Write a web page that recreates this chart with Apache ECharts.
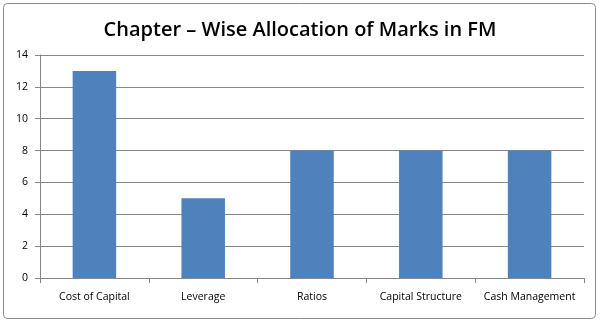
<!DOCTYPE html>
<html><head><meta charset="utf-8">
<script src="https://cdn.jsdelivr.net/npm/echarts@6/dist/echarts.min.js"></script>
<style>html,body{margin:0;padding:0;background:#fff}#c{width:600px;height:323px}</style>
</head><body><div id="c"></div>
<script>
var titleText = 'Chapter \u2013 Wise Allocation of Marks in FM';
var categories = ['Cost of Capital', 'Leverage', 'Ratios', 'Capital Structure', 'Cash Management'];
var marks = [13, 5, 8, 8, 8];
var yTicks = [0, 2, 4, 6, 8, 10, 12, 14];

var chart = echarts.init(document.getElementById('c'), null, {renderer: 'canvas'});
chart.setOption({
  animation: false,
  backgroundColor: '#fff',
  graphic: [{
    type: 'rect', shape: {x: 3.5, y: 3.5, width: 592, height: 315, r: 4},
    style: {fill: 'none', stroke: '#8c8c8c', lineWidth: 1}, z: -1
  }],
  title: {
    text: titleText, left: 'center', top: 15,
    textStyle: {fontFamily: 'Open Sans', fontSize: 20, fontWeight: 600, color: '#000'}
  },
  grid: {left: 40, right: 16, top: 55, bottom: 45},
  xAxis: {
    type: 'category', data: categories,
    axisLine: {lineStyle: {color: '#868686'}},
    axisTick: {show: true, length: 5, lineStyle: {color: '#868686'}},
    axisLabel: {interval: 0, hideOverlap: false, color: '#000', fontFamily: 'Open Sans', fontSize: 10.5, margin: 14}
  },
  yAxis: {
    type: 'value', min: yTicks[0], max: yTicks[yTicks.length - 1], interval: 2,
    axisLine: {show: true, lineStyle: {color: '#868686'}},
    axisTick: {show: true, length: 5, lineStyle: {color: '#868686'}},
    splitLine: {lineStyle: {color: '#868686'}},
    axisLabel: {color: '#000', fontFamily: 'Open Sans', fontSize: 10.5, margin: 12}
  },
  series: [{
    type: 'bar', data: marks, barWidth: '40%',
    itemStyle: {color: '#4F81BD'}
  }]
});
</script></body></html>
